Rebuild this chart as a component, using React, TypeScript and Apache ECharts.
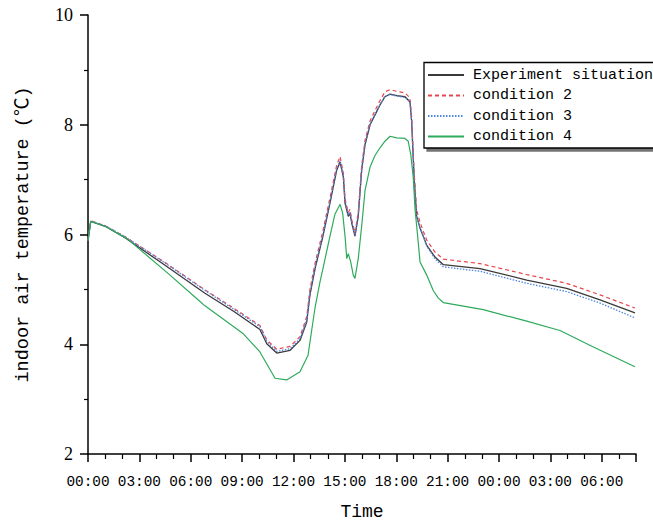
import React, { useEffect, useRef } from "react";
import * as echarts from "echarts";

// time in hours from 00:00 of day 1, indoor air temperature in °C
const experiment: [number, number][] = [
  [0, 5.89], [0.16, 6.24], [1.0, 6.15], [2.16, 5.94], [4.5, 5.44], [6.83, 4.93], [8.5, 4.6], [10.04, 4.27],
  [10.44, 4.01], [11.02, 3.84], [11.8, 3.89], [12.38, 4.07], [12.77, 4.4], [12.96, 4.9], [13.26, 5.38],
  [13.72, 5.97], [14.13, 6.57], [14.52, 7.17], [14.72, 7.32], [14.91, 7.05], [15.01, 6.57], [15.2, 6.33],
  [15.3, 6.39], [15.4, 6.21], [15.59, 5.97], [15.78, 6.33], [15.98, 7.17], [16.18, 7.64], [16.47, 8.0],
  [16.76, 8.18], [17.05, 8.36], [17.34, 8.51], [17.64, 8.56], [18.03, 8.53], [18.51, 8.51], [18.8, 8.42],
  [18.9, 8.06], [19.04, 7.05], [19.19, 6.33], [19.39, 6.12], [19.58, 5.97], [19.78, 5.8], [20.26, 5.59],
  [20.75, 5.45], [22.89, 5.38], [25.62, 5.17], [27.95, 5.02], [29.9, 4.81], [31.94, 4.57],
];

const condition2: [number, number][] = [
  [0, 5.89], [0.16, 6.25], [1.0, 6.16], [2.16, 5.96], [4.5, 5.49], [6.83, 4.99], [8.5, 4.66], [10.04, 4.34],
  [10.44, 4.08], [11.02, 3.91], [11.8, 3.96], [12.38, 4.14], [12.77, 4.5], [12.96, 5.0], [13.26, 5.48],
  [13.72, 6.07], [14.13, 6.67], [14.52, 7.26], [14.72, 7.42], [14.91, 7.12], [15.01, 6.65], [15.2, 6.4],
  [15.3, 6.46], [15.4, 6.27], [15.59, 6.03], [15.78, 6.4], [15.98, 7.25], [16.18, 7.72], [16.47, 8.07],
  [16.76, 8.26], [17.05, 8.44], [17.34, 8.6], [17.64, 8.64], [18.03, 8.61], [18.51, 8.58], [18.8, 8.49],
  [18.9, 8.14], [19.04, 7.15], [19.19, 6.45], [19.39, 6.22], [19.58, 6.06], [19.78, 5.9], [20.26, 5.68],
  [20.75, 5.55], [22.89, 5.47], [25.62, 5.27], [27.95, 5.11], [29.9, 4.9], [31.94, 4.66],
];

const condition3: [number, number][] = [
  [0, 5.89], [0.16, 6.24], [1.0, 6.16], [2.16, 5.96], [4.5, 5.48], [6.83, 4.98], [8.5, 4.64], [10.04, 4.32],
  [10.44, 4.05], [11.02, 3.87], [11.8, 3.92], [12.38, 4.1], [12.77, 4.44], [12.96, 4.93], [13.26, 5.41],
  [13.72, 6.0], [14.13, 6.6], [14.52, 7.2], [14.72, 7.34], [14.91, 7.07], [15.01, 6.6], [15.2, 6.35],
  [15.3, 6.41], [15.4, 6.23], [15.59, 5.99], [15.78, 6.35], [15.98, 7.19], [16.18, 7.66], [16.47, 8.01],
  [16.76, 8.19], [17.05, 8.37], [17.34, 8.52], [17.64, 8.55], [18.03, 8.52], [18.51, 8.5], [18.8, 8.41],
  [18.9, 8.06], [19.04, 7.06], [19.19, 6.34], [19.39, 6.12], [19.58, 5.96], [19.78, 5.79], [20.26, 5.56],
  [20.75, 5.41], [22.89, 5.33], [25.62, 5.11], [27.95, 4.96], [29.9, 4.75], [31.94, 4.48],
];

const condition4: [number, number][] = [
  [0, 5.89], [0.16, 6.24], [1.0, 6.15], [2.3, 5.92], [4.79, 5.26], [6.54, 4.78], [6.83, 4.7], [9.07, 4.19],
  [10.04, 3.86], [10.92, 3.38], [11.6, 3.35], [12.38, 3.5], [12.85, 3.8], [13.06, 4.25], [13.26, 4.67],
  [13.55, 5.14], [13.72, 5.38], [14.13, 5.97], [14.42, 6.37], [14.72, 6.55], [14.87, 6.39], [15.01, 5.97],
  [15.11, 5.56], [15.2, 5.65], [15.34, 5.5], [15.49, 5.26], [15.59, 5.2], [15.78, 5.56], [15.98, 6.15],
  [16.18, 6.81], [16.47, 7.23], [16.76, 7.44], [17.05, 7.58], [17.34, 7.7], [17.64, 7.79], [18.03, 7.76],
  [18.51, 7.75], [18.7, 7.7], [18.85, 7.45], [18.99, 7.05], [19.1, 6.45], [19.25, 5.97], [19.39, 5.5],
  [19.78, 5.26], [20.16, 4.98], [20.46, 4.84], [20.75, 4.76], [23.08, 4.63], [25.62, 4.42], [27.56, 4.25],
  [29.51, 3.95], [31.94, 3.59],
];

const seriesNames = ["Experiment situation", "condition 2", "condition 3", "condition 4"];
const xTickHours = [0, 3, 6, 9, 12, 15, 18, 21, 24, 27, 30];
const yTicks = [2, 4, 6, 8, 10];

const MONO = "'Liberation Mono', 'Noto Sans CJK SC', monospace";
const SERIF = "'Liberation Serif', serif";

export default function App() {
  const ref = useRef<HTMLDivElement>(null);
  useEffect(() => {
    if (!ref.current) return;
    const chart = echarts.init(ref.current, null, { renderer: "svg" });
    const fmtHour = (v: number) => {
      if (!xTickHours.includes(v)) return "";
      const h = v % 24;
      return (h < 10 ? "0" + h : "" + h) + ":00";
    };
    chart.setOption({
      animation: false,
      backgroundColor: "#ffffff",
      grid: { left: 88, right: 17, top: 15, bottom: 63.5, containLabel: false },
      xAxis: {
        type: "value",
        min: 0,
        max: 32,
        interval: 3,
        name: "Time",
        nameLocation: "middle",
        nameGap: 49,
        nameTextStyle: { fontFamily: MONO, fontSize: 18, color: "#000" },
        axisLine: { show: true, onZero: false, lineStyle: { color: "#000", width: 1.5 } },
        axisTick: { show: true, inside: false, length: 8, lineStyle: { color: "#000", width: 1.5 } },
        minorTick: { show: true, splitNumber: 3, length: 5, lineStyle: { color: "#000", width: 1.2 } },
        splitLine: { show: false },
        axisLabel: {
          formatter: fmtHour,
          margin: 21,
          fontFamily: MONO,
          fontSize: 14.4,
          color: "#000",
          showMaxLabel: false,
        },
      },
      yAxis: {
        type: "value",
        min: 2,
        max: 10,
        interval: 2,
        name: "indoor air temperature (℃)",
        nameLocation: "middle",
        nameGap: 55,
        nameRotate: 90,
        nameTextStyle: { fontFamily: MONO, fontSize: 18.5, color: "#000" },
        axisLine: { show: true, lineStyle: { color: "#000", width: 1.5 } },
        axisTick: { show: true, inside: false, length: 8, lineStyle: { color: "#000", width: 1.5 } },
        minorTick: { show: true, splitNumber: 2, length: 4, lineStyle: { color: "#000", width: 1.2 } },
        splitLine: { show: false },
        axisLabel: {
          formatter: (v: number) => (yTicks.includes(v) ? String(v) : ""),
          margin: 15,
          fontFamily: SERIF,
          fontSize: 18,
          color: "#000",
        },
      },
      legend: {
        orient: "vertical",
        left: 424,
        top: 62.5,
        data: seriesNames,
        itemWidth: 36,
        itemHeight: 12,
        itemGap: 5.5,
        padding: [5, 12, 4, 3],
        backgroundColor: "#ffffff",
        borderColor: "#000",
        borderWidth: 1.3,
        borderRadius: 0,
        shadowBlur: 1,
        shadowColor: "rgba(0,0,0,0.55)",
        shadowOffsetX: 3,
        shadowOffsetY: 3,
        itemStyle: { opacity: 0, borderWidth: 0 },
        textStyle: { fontFamily: MONO, fontSize: 15, color: "#000", lineHeight: 15, padding: [0, 0, 0, 4] },
      },
      series: [
        {
          name: seriesNames[0],
          type: "line",
          data: experiment,
          symbol: "none",
          showSymbol: false,
          lineStyle: { color: "#3a3a3a", width: 1.3 },
          itemStyle: { color: "#3a3a3a" },
          z: 2,
        },
        {
          name: seriesNames[1],
          type: "line",
          data: condition2,
          symbol: "none",
          showSymbol: false,
          lineStyle: { color: "#e8474f", width: 1.2, type: [4, 3] },
          itemStyle: { color: "#e8474f" },
          z: 3,
        },
        {
          name: seriesNames[2],
          type: "line",
          data: condition3,
          symbol: "none",
          showSymbol: false,
          lineStyle: { color: "#4f86e0", width: 1.3, type: [1.5, 1.5] },
          itemStyle: { color: "#4f86e0" },
          z: 4,
        },
        {
          name: seriesNames[3],
          type: "line",
          data: condition4,
          symbol: "none",
          showSymbol: false,
          lineStyle: { color: "#2eaa5c", width: 1.2 },
          itemStyle: { color: "#2eaa5c" },
          z: 5,
        },
      ],
    });
    return () => chart.dispose();
  }, []);
  return (
    <div
      ref={ref}
      style={{ position: "absolute", left: 0, top: 0, width: 653, height: 526, background: "#fff" }}
    />
  );
}
